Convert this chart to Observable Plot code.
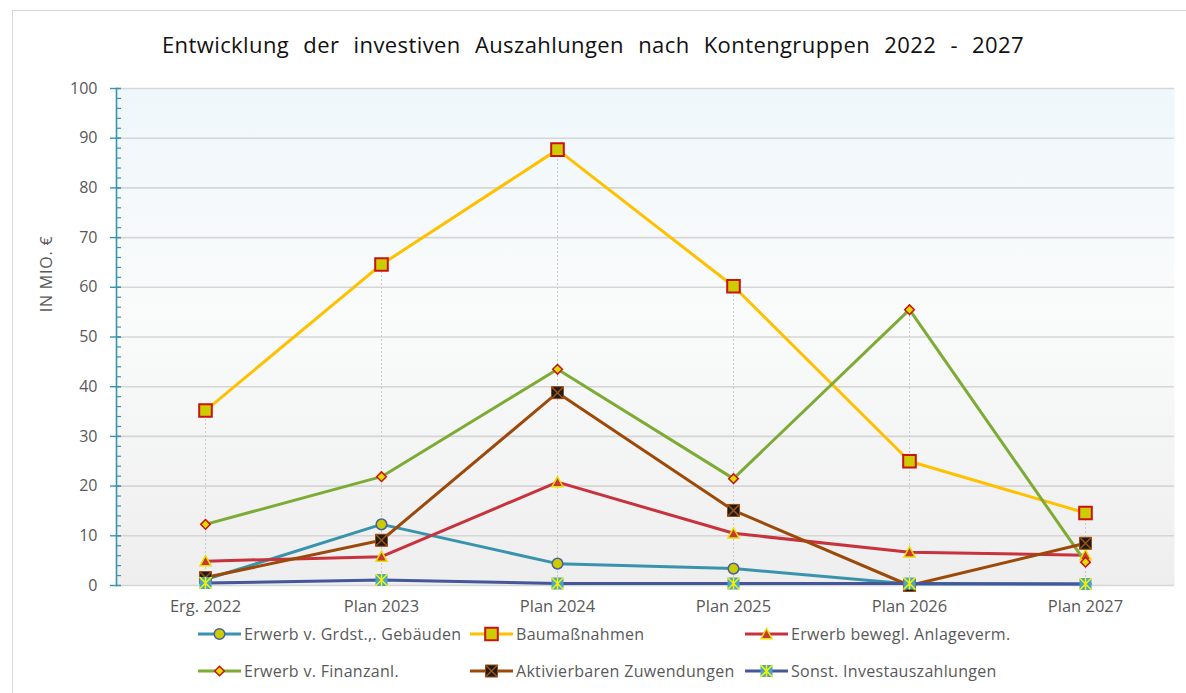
<!DOCTYPE html>
<html>
<head>
<meta charset="utf-8">
<script src="https://cdn.jsdelivr.net/npm/d3@7"></script>
<script src="https://cdn.jsdelivr.net/npm/@observablehq/plot@0.6"></script>
<style>
  body { margin: 0; background: #fff; font-family: "Open Sans", sans-serif; }
  #wrap { position: relative; width: 1186px; height: 693px; overflow: hidden; background: #fff; }
  #frame { position: absolute; left: 12px; top: 10px; width: 1200px; height: 720px; border: 1px solid #d9d9d9; box-sizing: border-box; }
  #title { position: absolute; left: 0; top: 28px; width: 1186px; text-align: center; font-size: 22px; letter-spacing: 0.4px; line-height: 32px; color: #111; white-space: nowrap; }
  #ylabel { position: absolute; left: 46px; top: 274px; transform: translate(-50%, -50%) rotate(-90deg); font-size: 16px; letter-spacing: 0.8px; color: #595959; white-space: nowrap; }
  #chart { position: absolute; left: 0; top: 70px; }
  .leg { position: absolute; display: flex; align-items: center; height: 24px; font-size: 16px; letter-spacing: 0.3px; color: #595959; white-space: nowrap; }
  .leg svg { display: block; margin-right: 3px; overflow: visible; }
</style>
</head>
<body>
<div id="wrap">
  <div id="frame"></div>
  <div id="title"><span id="titletext">Entwicklung der investiven Auszahlungen nach Kontengruppen 2022 - 2027</span></div>
  <div id="ylabel">IN MIO. €</div>
  <div id="chart"></div>
  <div id="legend"></div>
</div>
<script>
// ---------- data ----------
const categories = ["Erg. 2022", "Plan 2023", "Plan 2024", "Plan 2025", "Plan 2026", "Plan 2027"];
const seriesNames = [
  "Erwerb v. Grdst.,. Gebäuden",
  "Baumaßnahmen",
  "Erwerb bewegl. Anlageverm.",
  "Erwerb v. Finanzanl.",
  "Aktivierbaren Zuwendungen",
  "Sonst. Investauszahlungen"
];
const grdstValues   = [1.2, 12.3, 4.4, 3.4, 0.3, 0.3];
const bauValues     = [35.2, 64.6, 87.7, 60.2, 25.0, 14.6];
const beweglValues  = [4.9, 5.8, 20.8, 10.5, 6.7, 6.1];
const finanzValues  = [12.3, 21.9, 43.5, 21.5, 55.5, 4.7];
const aktivValues   = [1.6, 9.1, 38.8, 15.1, 0.0, 8.5];
const sonstValues   = [0.5, 1.1, 0.4, 0.4, 0.4, 0.3];
const yTicks = [0, 10, 20, 30, 40, 50, 60, 70, 80, 90, 100];

const seriesValues = [grdstValues, bauValues, beweglValues, finanzValues, aktivValues, sonstValues];

// ---------- styles ----------
const sym = {
  square: { draw(c, s) { const r = Math.sqrt(s / Math.PI); c.rect(-r, -r, 2 * r, 2 * r); } },
  diamond: { draw(c, s) { const r = Math.sqrt(s / Math.PI); c.moveTo(0, -r); c.lineTo(r, 0); c.lineTo(0, r); c.lineTo(-r, 0); c.closePath(); } },
  triangle: { draw(c, s) { const r = Math.sqrt(s / Math.PI); c.moveTo(0, -r); c.lineTo(r, r * 0.85); c.lineTo(-r, r * 0.85); c.closePath(); } },
  cross: { draw(c, s) { const r = Math.sqrt(s / Math.PI); c.moveTo(-r, -r); c.lineTo(r, r); c.moveTo(-r, r); c.lineTo(r, -r); } },
  crossbar: { draw(c, s) { const r = Math.sqrt(s / Math.PI); c.moveTo(-r, -r); c.lineTo(r, r); c.moveTo(-r, r); c.lineTo(r, -r); c.moveTo(0, -r); c.lineTo(0, r); } },
  circle: { draw(c, s) { const r = Math.sqrt(s / Math.PI); c.moveTo(r, 0); c.arc(0, 0, r, 0, 2 * Math.PI); } }
};
const seriesStyles = [
  { line: "#3a93ad", markers: [{ symbol: "circle", r: 5.3, fill: "#cccc00", stroke: "#4a5f9c", sw: 1.5 }] },
  { line: "#ffc000", markers: [{ symbol: "square", r: 6.3, fill: "#cccc00", stroke: "#cc1111", sw: 2 }] },
  { line: "#c8323c", markers: [{ symbol: "triangle", r: 5.5, fill: "#c83a30", stroke: "#e6e000", sw: 1.5 }] },
  { line: "#7dab35", markers: [{ symbol: "diamond", r: 4.8, fill: "#dddd00", stroke: "#cc1111", sw: 1.5 }] },
  { line: "#9c4a0a", markers: [{ symbol: "square", r: 6, fill: "#1c1c1c", stroke: "#9c4a0a", sw: 1 },
                               { symbol: "cross", r: 6, fill: "none", stroke: "#a0520f", sw: 1.5 }] },
  { line: "#45569a", markers: [{ symbol: "square", r: 6, fill: "#4aa3c8", stroke: "none", sw: 0 },
                               { symbol: "crossbar", r: 6, fill: "none", stroke: "#f2f200", sw: 1.6 }] }
];

const rows = [];
seriesNames.forEach((name, si) => {
  categories.forEach((cat, ci) => rows.push({ series: name, si, cat, value: seriesValues[si][ci] }));
});
const drops = categories.map((cat, ci) => ({ cat, top: d3.max(seriesValues, v => v[ci]) }));
const minorTicks = d3.range(0, 101, 2);

const plotW = 1186 - 116 - 12;
const marks = [
  Plot.frame({ fill: "url(#plotbg)", stroke: "none" }),
  Plot.ruleY(yTicks, { stroke: "#d6d6d6", strokeWidth: 1.6 }),
  Plot.ruleX(drops, { x: "cat", y1: 0, y2: "top", stroke: "#c8c8c8", strokeWidth: 1, strokeDasharray: "2,2" }),
  Plot.ruleY(minorTicks, { stroke: "#3a93ad", strokeWidth: 1.2, insetRight: plotW - 5 }),
  Plot.ruleY(yTicks, { stroke: "#3a93ad", strokeWidth: 1.4, insetLeft: -6, insetRight: plotW - 5 }),
  Plot.frame({ anchor: "left", stroke: "#3a93ad", strokeWidth: 1.6 }),
  Plot.axisY(yTicks, { tickSize: 0, tickPadding: 19, label: null, fontSize: 16 }),
  Plot.axisX({ tickSize: 0, tickPadding: 15, label: null, fontSize: 16.5 })
];
seriesNames.forEach((name, si) => {
  marks.push(Plot.line(rows.filter(d => d.si === si), { x: "cat", y: "value", stroke: seriesStyles[si].line, strokeWidth: 3, strokeLinejoin: "round" }));
});
seriesNames.forEach((name, si) => {
  seriesStyles[si].markers.forEach(m => {
    marks.push(Plot.dot(rows.filter(d => d.si === si), {
      x: "cat", y: "value", symbol: sym[m.symbol], r: m.r,
      fill: m.fill, stroke: m.stroke, strokeWidth: m.sw
    }));
  });
});

const svg = Plot.plot({
  width: 1186, height: 555,
  marginLeft: 116, marginRight: 12, marginTop: 18, marginBottom: 40,
  style: { fontFamily: "'Open Sans', sans-serif", fontSize: "16px", color: "#595959", background: "transparent" },
  x: { type: "point", domain: categories, padding: 0.5 },
  y: { domain: [0, 100] },
  marks
});
const defs = d3.select(svg).insert("defs", ":first-child");
const grad = defs.append("linearGradient").attr("id", "plotbg").attr("x1", 0).attr("y1", 0).attr("x2", 0).attr("y2", 1);
grad.append("stop").attr("offset", "0%").attr("stop-color", "#eff7fb");
grad.append("stop").attr("offset", "45%").attr("stop-color", "#fafbfb");
grad.append("stop").attr("offset", "100%").attr("stop-color", "#eeeeee");
document.getElementById("chart").appendChild(svg);

// title spacing to match width
const tt = document.getElementById("titletext");
const natural = tt.getBoundingClientRect().width;
const gaps = tt.textContent.split(" ").length - 1;
tt.style.wordSpacing = Math.max(0, (862 - natural) / gaps) + "px";

// legend
const legPos = [
  { x: 198, y: 622 }, { x: 470, y: 622 }, { x: 745, y: 622 },
  { x: 198, y: 659 }, { x: 470, y: 659 }, { x: 745, y: 659 }
];
const legend = document.getElementById("legend");
seriesNames.forEach((name, si) => {
  const div = document.createElement("div");
  div.className = "leg";
  div.style.left = legPos[si].x + "px";
  div.style.top = legPos[si].y + "px";
  const s = d3.create("svg").attr("width", 43).attr("height", 24);
  s.append("line").attr("x1", 0).attr("x2", 43).attr("y1", 12).attr("y2", 12)
    .attr("stroke", seriesStyles[si].line).attr("stroke-width", 3);
  seriesStyles[si].markers.forEach(m => {
    s.append("path").attr("transform", "translate(21.5,12)")
      .attr("d", d3.symbol(sym[m.symbol], Math.PI * m.r * m.r)())
      .attr("fill", m.fill).attr("stroke", m.stroke).attr("stroke-width", m.sw);
  });
  div.appendChild(s.node());
  const t = document.createElement("span");
  t.textContent = name;
  div.appendChild(t);
  legend.appendChild(div);
});
</script>
</body>
</html>
